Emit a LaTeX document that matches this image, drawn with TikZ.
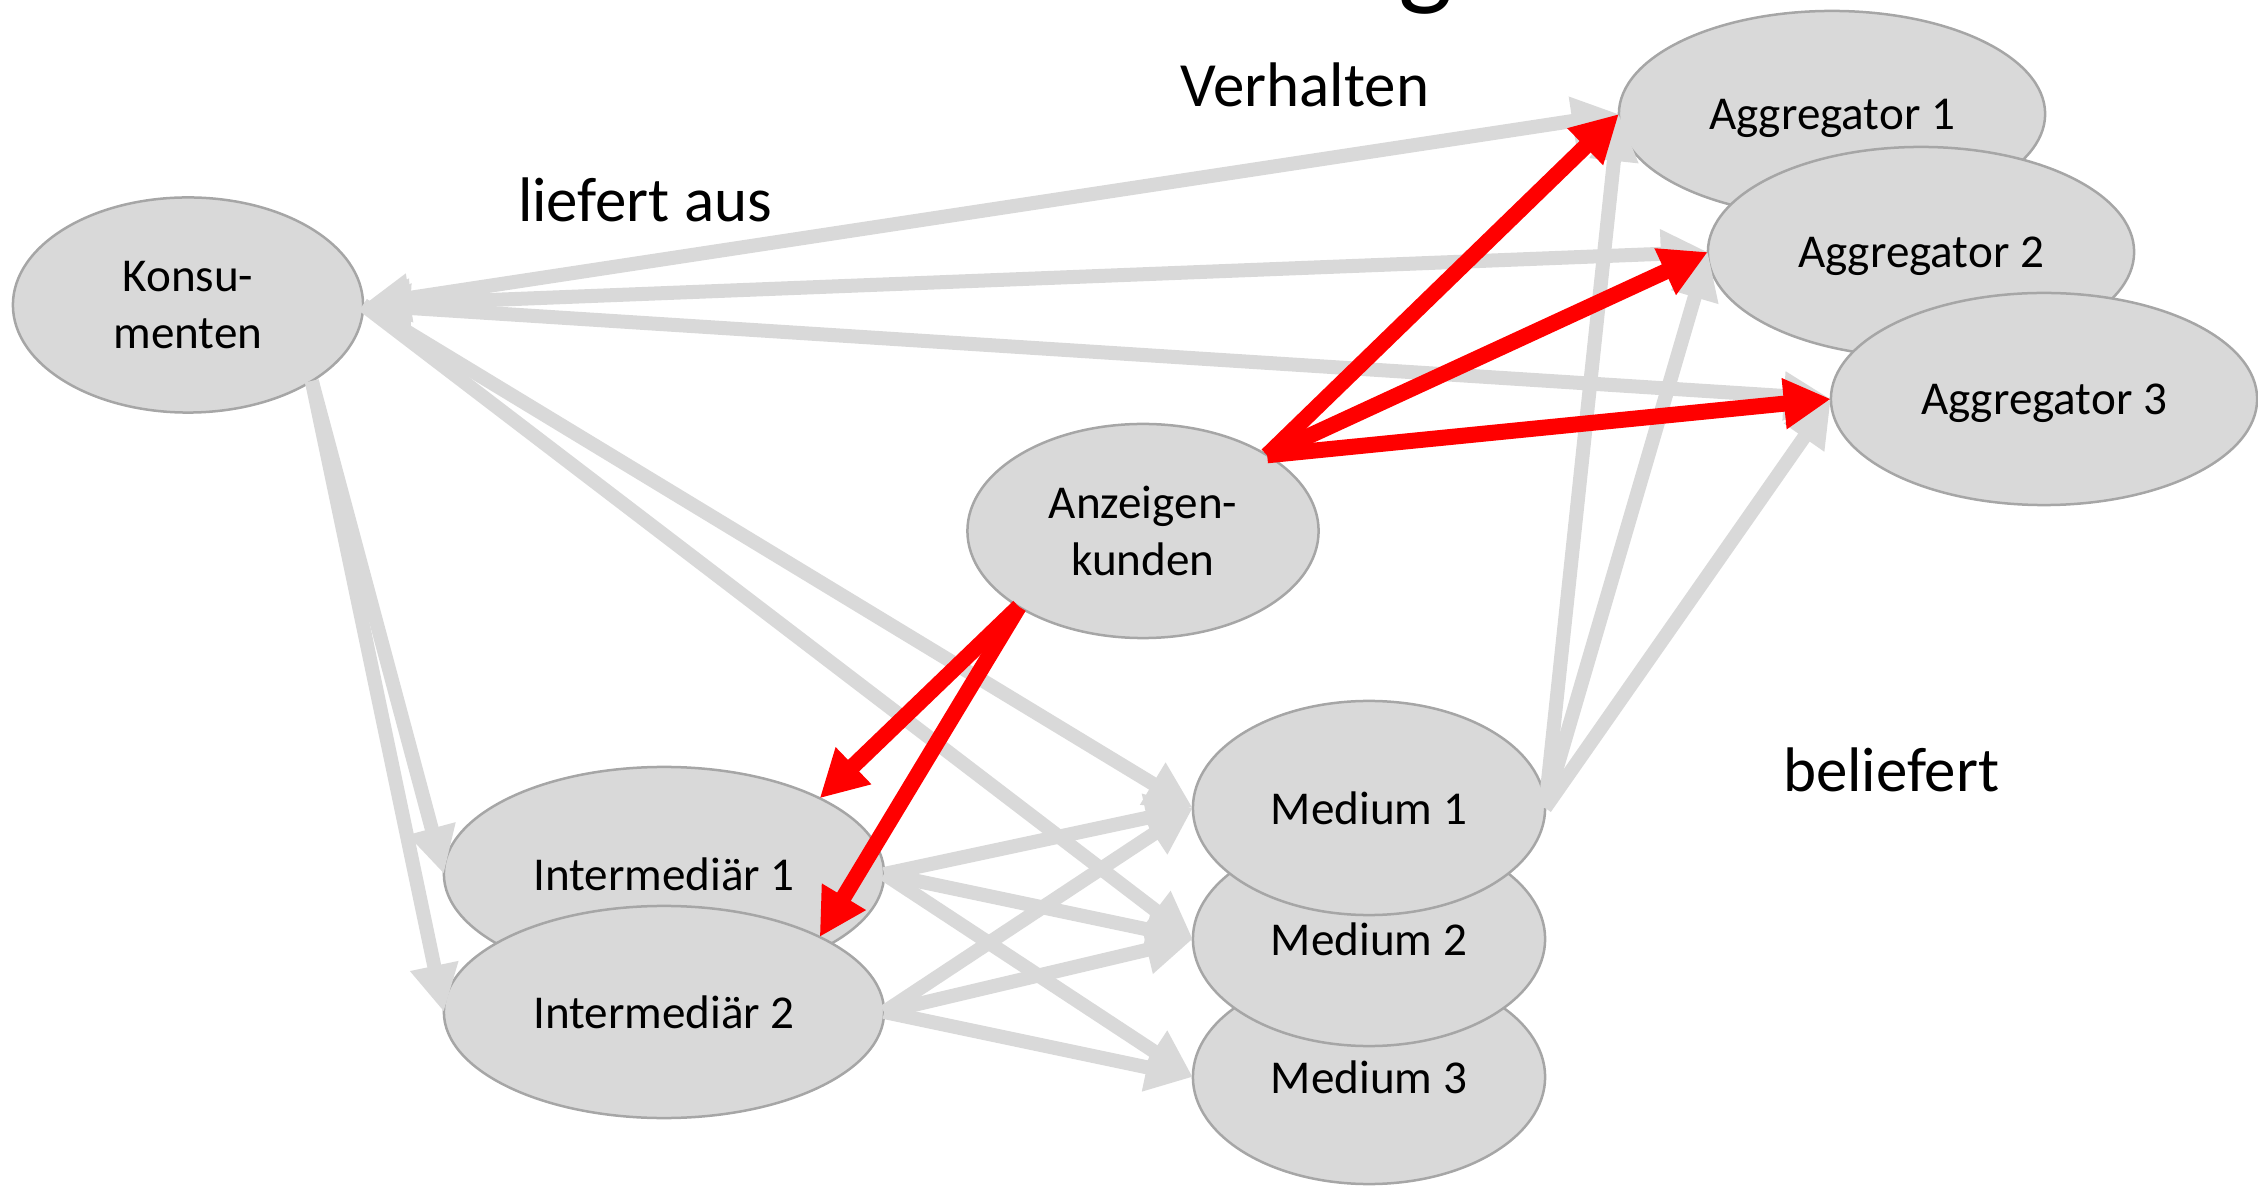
\documentclass[tikz,border=0pt]{standalone}
\usepackage{fontspec}
\setmainfont{Carlito}
\usetikzlibrary{arrows.meta,shapes.geometric}
\definecolor{ellfill}{HTML}{D9D9D9}
\definecolor{ellline}{HTML}{A6A6A6}
\definecolor{arrgray}{HTML}{D9D9D9}
\definecolor{arrred}{HTML}{FF0000}
\begin{document}
\begin{tikzpicture}[x=0.01cm,y=-0.01cm,
  ell/.style={ellipse, draw=ellline, line width=0.025cm, fill=ellfill, inner sep=0pt, outer sep=0pt,
    font=\fontsize{13.4pt}{16.1pt}\selectfont, align=center, text depth=0pt},
  ghead/.tip={Triangle[length=0.47cm,width=0.46cm]},
  rhead/.tip={Triangle[length=0.47cm,width=0.48cm]},
  grayarr/.style={draw=arrgray, line width=0.14cm, -ghead},
  grayboth/.style={draw=arrgray, line width=0.14cm, ghead-ghead},
  redarr/.style={draw=arrred, line width=0.16cm, -rhead},
  lbl/.style={font=\fontsize{17.9pt}{21pt}\selectfont, anchor=base, inner sep=0pt}
]
\useasboundingbox (0,0) rectangle (2258,1189);
\clip (0,0) rectangle (2258,1189);

% ellipses (back to front)
\node[ell, minimum width=4.26cm, minimum height=2.06cm] (agg1) at (1832,114) {Aggregator 1};
\node[ell, minimum width=4.26cm, minimum height=2.10cm] (agg2) at (1921,252) {Aggregator 2};
\node[ell, minimum width=4.26cm, minimum height=2.12cm] (agg3) at (2044,399) {Aggregator 3};
\node[ell, minimum width=4.40cm, minimum height=2.14cm] (int1) at (664,874) {Intermediär 1};
\node[ell, minimum width=4.40cm, minimum height=2.12cm] (int2) at (664,1012) {Intermediär 2};
\node[ell, minimum width=3.52cm, minimum height=2.14cm] (med3) at (1369,1077) {Medium 3};
\node[ell, minimum width=3.52cm, minimum height=2.14cm] (med2) at (1369,939) {Medium 2};
\node[ell, minimum width=3.52cm, minimum height=2.14cm] (med1) at (1369,808) {Medium 1};
\node[ell, minimum width=3.50cm, minimum height=2.15cm] (kons) at (188,305) {Konsu-\\menten};
\node[ell, minimum width=3.51cm, minimum height=2.14cm] (anz) at (1143,531) {Anzeigen-\\kunden};

% gray connectors
\draw[grayboth] (kons.east) -- (agg1.west);
\draw[grayboth] (kons.east) -- (agg2.west);
\draw[grayboth] (kons.east) -- (agg3.west);
\draw[grayarr] (kons.east) -- (med1.west);
\draw[grayarr] (kons.east) -- (med2.west);
\draw[grayarr] (kons.south east) -- (int1.west);
\draw[grayarr] (kons.south east) -- (int2.west);
\draw[grayarr] (int1.east) -- (med1.west);
\draw[grayarr] (int1.east) -- (med2.west);
\draw[grayarr] (int1.east) -- (med3.west);
\draw[grayarr] (int2.east) -- (med1.west);
\draw[grayarr] (int2.east) -- (med2.west);
\draw[grayarr] (int2.east) -- (med3.west);
\draw[grayarr] (med1.east) -- (agg1.west);
\draw[grayarr] (med1.east) -- (agg2.west);
\draw[grayarr] (med1.east) -- (agg3.west);

% red connectors
\draw[redarr] (anz.north east) -- (agg1.west);
\draw[redarr] (anz.north east) -- (agg2.west);
\draw[redarr] (anz.north east) -- (agg3.west);
\draw[redarr] (anz.south west) -- (int1.north east);
\draw[redarr] (anz.south west) -- (int2.north east);

% labels
\node[lbl] (verh) at (1305,107) {Verhalten};
\node[lbl] (lief) at (645,222) {liefert aus};
\node[lbl] (bel) at (1891,791) {beliefert};
\node[font=\fontsize{32.8pt}{36pt}\selectfont, anchor=base, inner sep=0pt] (title) at (1426,-5) {g};
\end{tikzpicture}
\end{document}
